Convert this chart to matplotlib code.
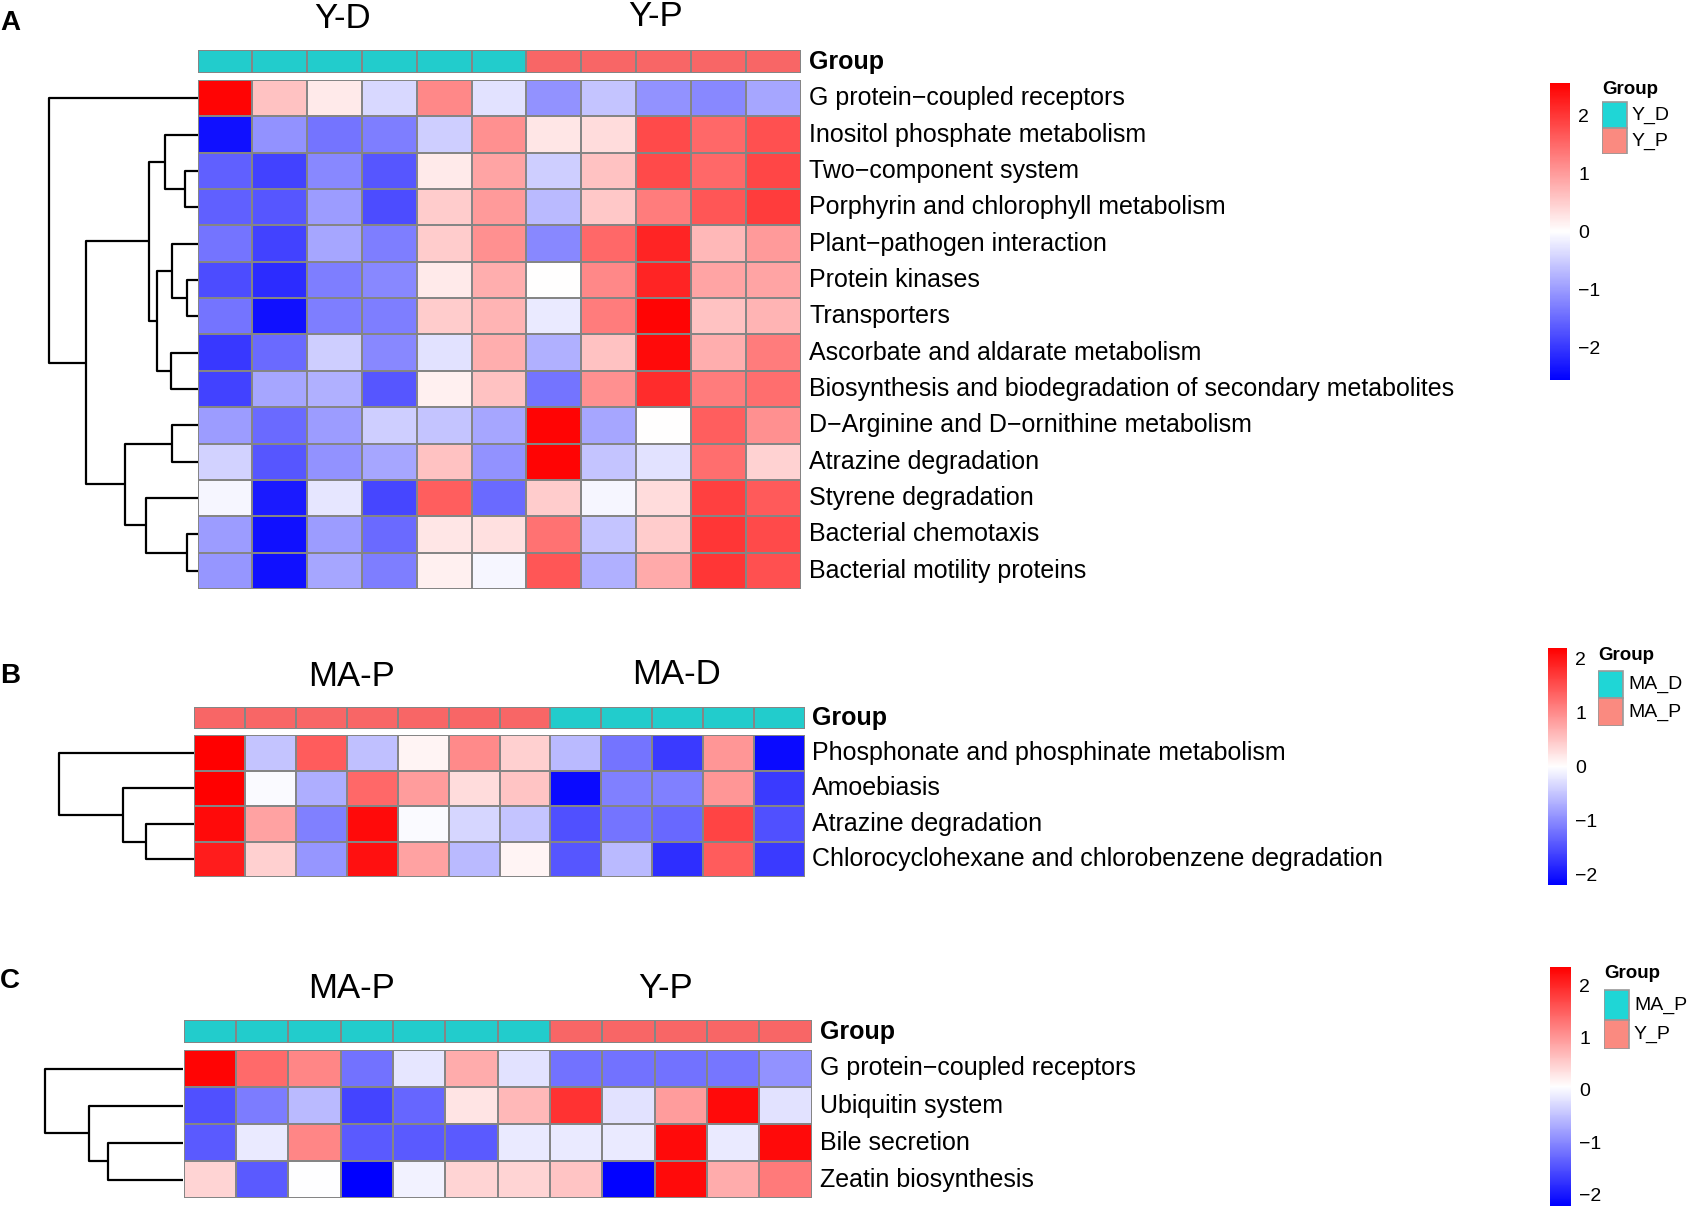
import numpy as np
import matplotlib
matplotlib.use("Agg")
import matplotlib.pyplot as plt
from matplotlib.colors import LinearSegmentedColormap, ListedColormap, Normalize
from matplotlib.cm import ScalarMappable
from matplotlib.patches import Rectangle

plt.rcParams["font.family"] = ["Liberation Sans", "DejaVu Sans"]

# ---------------- data ----------------
# Panel A
rows_a = ["G protein−coupled receptors", "Inositol phosphate metabolism", "Two−component system",
          "Porphyrin and chlorophyll metabolism", "Plant−pathogen interaction", "Protein kinases",
          "Transporters", "Ascorbate and aldarate metabolism",
          "Biosynthesis and biodegradation of secondary metabolites",
          "D−Arginine and D−ornithine metabolism", "Atrazine degradation", "Styrene degradation",
          "Bacterial chemotaxis", "Bacterial motility proteins"]
groups_a = ["Y_D"] * 6 + ["Y_P"] * 5
levels_a = ["Y_D", "Y_P"]
vals_a = [
    [2.5, 0.6, 0.2, -0.4, 1.2, -0.3, -1.1, -0.6, -1.1, -1.2, -0.9],
    [-2.4, -1.1, -1.4, -1.3, -0.5, 1.1, 0.25, 0.35, 1.8, 1.5, 1.75],
    [-1.6, -1.9, -1.2, -1.7, 0.2, 0.9, -0.5, 0.6, 1.8, 1.5, 1.85],
    [-1.6, -1.7, -1.0, -1.8, 0.5, 1.0, -0.7, 0.55, 1.3, 1.7, 1.95],
    [-1.4, -1.9, -0.9, -1.3, 0.5, 1.1, -1.2, 1.5, 2.2, 0.7, 1.0],
    [-1.8, -2.1, -1.3, -1.2, 0.2, 0.8, 0.0, 1.2, 2.2, 0.9, 0.9],
    [-1.4, -2.4, -1.3, -1.3, 0.5, 0.75, -0.2, 1.3, 2.5, 0.6, 0.75],
    [-2.0, -1.5, -0.5, -1.2, -0.3, 0.8, -0.8, 0.6, 2.45, 0.8, 1.3],
    [-1.9, -0.9, -0.8, -1.7, 0.15, 0.6, -1.4, 1.1, 2.1, 1.3, 1.45],
    [-1.0, -1.5, -1.0, -0.5, -0.6, -0.9, 2.5, -0.9, 0.0, 1.6, 1.1],
    [-0.45, -1.7, -1.1, -0.9, 0.6, -1.1, 2.5, -0.6, -0.3, 1.45, 0.45],
    [-0.1, -2.3, -0.25, -1.85, 1.6, -1.5, 0.5, -0.1, 0.35, 1.9, 1.65],
    [-1.0, -2.4, -1.0, -1.5, 0.25, 0.3, 1.4, -0.6, 0.5, 2.0, 1.8],
    [-1.05, -2.4, -0.9, -1.3, 0.15, -0.1, 1.7, -0.8, 0.85, 2.0, 1.75],
]
# merges: (child, child, height); leaves 0..n-1, new nodes numbered from n
tree_a = [(2, 3, 23), (1, 14, 58), (5, 6, 18), (4, 16, 45), (7, 8, 47), (17, 18, 73),
          (15, 19, 88), (9, 10, 45), (12, 13, 18), (11, 22, 93), (21, 23, 131),
          (20, 24, 200), (0, 25, 268)]
ticks_a = [-2, -1, 0, 1, 2]
range_a = (-2.56, 2.56)

# Panel B
rows_b = ["Phosphonate and phosphinate metabolism", "Amoebiasis", "Atrazine degradation",
          "Chlorocyclohexane and chlorobenzene degradation"]
groups_b = ["MA_P"] * 7 + ["MA_D"] * 5
levels_b = ["MA_D", "MA_P"]
vals_b = [
    [2.2, -0.5, 1.4, -0.55, 0.1, 1.0, 0.4, -0.6, -1.2, -1.7, 0.9, -2.1],
    [2.2, -0.05, -0.7, 1.3, 0.85, 0.3, 0.5, -2.1, -1.1, -1.1, 0.9, -1.7],
    [2.1, 0.8, -1.1, 2.1, -0.05, -0.35, -0.5, -1.5, -1.2, -1.3, 1.6, -1.5],
    [1.95, 0.4, -0.9, 2.05, 0.8, -0.6, 0.1, -1.45, -0.6, -1.8, 1.4, -1.7],
]
tree_b = [(2, 3, 88), (1, 4, 130), (0, 5, 248)]
ticks_b = [-2, -1, 0, 1, 2]
range_b = (-2.2, 2.2)

# Panel C
rows_c = ["G protein−coupled receptors", "Ubiquitin system", "Bile secretion", "Zeatin biosynthesis"]
groups_c = ["MA_P"] * 7 + ["Y_P"] * 5
levels_c = ["MA_P", "Y_P"]
vals_c = [
    [2.3, 1.4, 1.15, -1.2, -0.15, 0.8, -0.2, -1.2, -1.2, -1.2, -1.15, -0.9],
    [-1.5, -1.1, -0.55, -1.6, -1.3, 0.3, 0.7, 1.9, -0.2, 0.95, 2.25, -0.2],
    [-1.4, -0.12, 1.15, -1.4, -1.4, -1.4, -0.12, -0.12, -0.12, 2.25, -0.12, 2.25],
    [0.45, -1.4, 0.05, -2.3, -0.05, 0.45, 0.45, 0.6, -2.2, 2.25, 0.8, 1.25],
]
tree_c = [(2, 3, 138), (1, 4, 173), (0, 5, 253)]
ticks_c = [-2, -1, 0, 1, 2]
range_c = (-2.22, 2.35)

# ---------------- styling ----------------
W, H = 1692, 1215
cmap = LinearSegmentedColormap.from_list("bwr_ph", ["#0000FF", "#FFFFFF", "#FF0000"])
bar_cols = ["#22CCCC", "#F86666"]
leg_cols = ["#1FD6D6", "#FA8A80"]
grid_col = "#858585"

fig = plt.figure(figsize=(W / 100, H / 100), dpi=100)


def ax_px(x0, y0, x1, y1):
    return fig.add_axes([x0 / W, 1 - y1 / H, (x1 - x0) / W, (y1 - y0) / H])


def draw_tree(ax, merges, n):
    pos = {i: (0.0, i + 0.5) for i in range(n)}
    for k, (a, b, h) in enumerate(merges):
        xa, ya = pos[a]
        xb, yb = pos[b]
        ax.plot([xa, h, h, xb], [ya, ya, yb, yb], color="black", lw=1.6,
                solid_capstyle="butt", clip_on=False)
        pos[n + k] = (h, (ya + yb) / 2)
    top = merges[-1][2]
    ax.set_xlim(top, 0)
    ax.set_ylim(n, 0)
    ax.axis("off")


def draw_panel(letter, rows, groups, levels, vals, tree, ticks, vrange, titles, L):
    vals = np.array(vals)
    nr, nc = vals.shape
    norm = Normalize(*vrange)
    lab_x = nc + (L["lx"] - L["hx1"]) / (L["hx1"] - L["hx0"]) * nc

    # heatmap body
    ax = ax_px(L["hx0"], L["hy0"], L["hx1"], L["hy1"])
    ax.pcolormesh(np.arange(nc + 1), np.arange(nr + 1), vals, cmap=cmap, norm=norm,
                  edgecolors=grid_col, linewidth=1.1)
    ax.set_xlim(0, nc)
    ax.set_ylim(nr, 0)
    ax.axis("off")
    for i, lab in enumerate(rows):
        ax.text(lab_x, i + 0.5, lab, fontsize=18, ha="left", va="center")

    # group annotation bar
    gidx = np.array([[levels.index(g) for g in groups]])
    gax = ax_px(L["hx0"], L["gy0"], L["hx1"], L["gy1"])
    gax.pcolormesh(np.arange(nc + 1), [0, 1], gidx, cmap=ListedColormap(bar_cols),
                   vmin=-0.5, vmax=1.5, edgecolors=grid_col, linewidth=1.1)
    gax.set_xlim(0, nc)
    gax.set_ylim(1, 0)
    gax.axis("off")
    gax.text(lab_x, 0.5, "Group", fontsize=18, fontweight="bold", ha="left", va="center")

    # dendrogram
    dax = ax_px(L["dx0"], L["hy0"], L["hx0"], L["hy1"])
    draw_tree(dax, tree, nr)

    # column group titles and panel letter
    for (txt, tx, ty) in titles:
        fig.text(tx / W, 1 - ty / H, txt, fontsize=25, ha="center", va="center")
    fig.text(0.0, 1 - L["ly"] / H, letter, fontsize=20, fontweight="bold",
             ha="left", va="center")

    # colour key
    cax = ax_px(L["cx0"], L["cy0"], L["cx1"], L["cy1"])
    cb = fig.colorbar(ScalarMappable(norm=norm, cmap=cmap), cax=cax, ticks=ticks)
    cb.outline.set_visible(False)
    cax.tick_params(length=0, labelsize=14, pad=6)

    # group legend
    lax = ax_px(L["gx"], L["gty"] - 14, L["gx"] + 90, L["gby"][2])
    lax.set_xlim(L["gx"], L["gx"] + 90)
    lax.set_ylim(L["gby"][2], L["gty"] - 14)
    lax.axis("off")
    lax.text(L["gx"], L["gty"], "Group", fontsize=13.5, fontweight="bold",
             ha="left", va="center")
    for j, lev in enumerate(levels):
        y0, y1 = L["gby"][j], L["gby"][j + 1]
        lax.add_patch(Rectangle((L["gx"], y0), 25, y1 - y0, facecolor=leg_cols[j],
                                edgecolor="#999999", lw=1.2))
        lax.text(L["gx"] + 30, (y0 + y1) / 2, lev, fontsize=14, ha="left", va="center")


draw_panel("A", rows_a, groups_a, levels_a, vals_a, tree_a, ticks_a, range_a,
           [("Y-D", 343, 19), ("Y-P", 656, 17)],
           dict(hx0=197.5, hx1=800.5, hy0=80, hy1=589, gy0=50, gy1=73, dx0=48.5, lx=809,
                ly=23, cx0=1550, cx1=1570, cy0=83, cy1=380,
                gx=1602, gty=90, gby=[102, 128, 154]))

draw_panel("B", rows_b, groups_b, levels_b, vals_b, tree_b, ticks_b, range_b,
           [("MA-P", 351, 676), ("MA-D", 676, 674)],
           dict(hx0=194, hx1=805, hy0=735, hy1=877, gy0=707, gy1=729, dx0=59, lx=812,
                ly=676, cx0=1548, cx1=1567, cy0=648, cy1=885,
                gx=1598, gty=655, gby=[671, 698, 726]))

draw_panel("C", rows_c, groups_c, levels_c, vals_c, tree_c, ticks_c, range_c,
           [("MA-P", 351, 989), ("Y-P", 666, 989)],
           dict(hx0=183.5, hx1=811.5, hy0=1050, hy1=1198, gy0=1020, gy1=1043, dx0=45, lx=820,
                ly=981, cx0=1550, cx1=1571, cy0=967, cy1=1206,
                gx=1604, gty=974, gby=[990, 1020, 1049]))

fig.savefig("out.png", dpi=100, facecolor="white")
